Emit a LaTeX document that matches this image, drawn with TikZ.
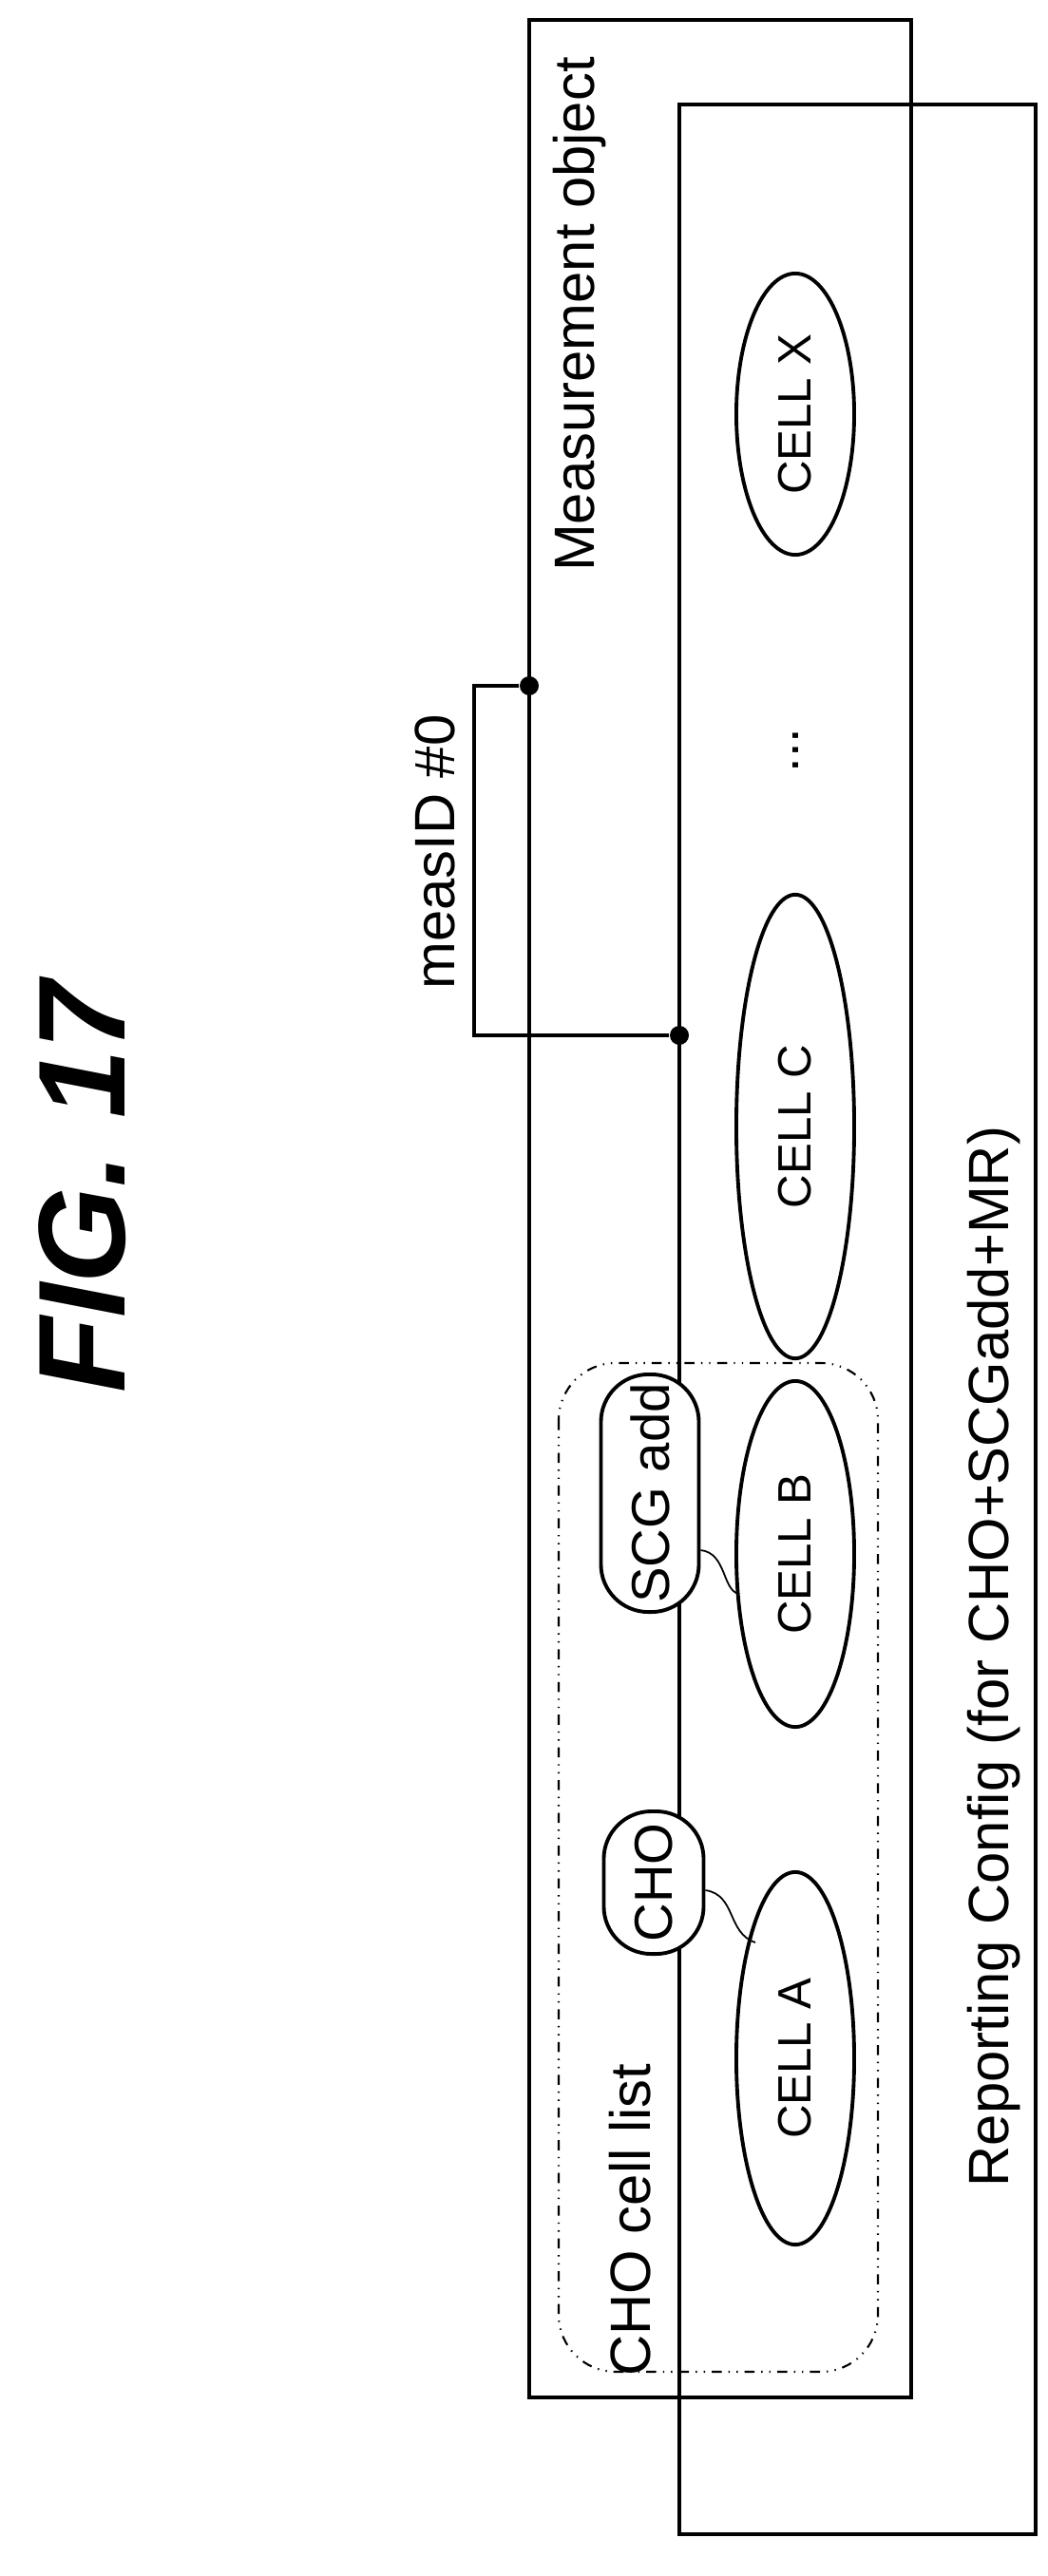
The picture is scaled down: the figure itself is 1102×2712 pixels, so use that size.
\documentclass[tikz,border=0pt]{standalone}
\usepackage{fontspec}
\setmainfont{Liberation Sans}
\usetikzlibrary{shapes.geometric}
\begin{document}
\begin{tikzpicture}[x=0.01cm,y=-0.01cm,
  box/.style={draw,line width=1.3pt},
  cell/.style={draw,ellipse,line width=1.1pt,fill=white,inner sep=0pt,font=\fontsize{14}{16}\selectfont},
  pill/.style={draw,line width=1.1pt,fill=white,rounded corners=0.5cm,inner sep=0pt,font=\fontsize{16}{18}\selectfont},
  lab/.style={rotate=90,font=\fontsize{17}{20}\selectfont},
  link/.style={line width=0.5pt},
  dot/.style={circle,fill=black,inner sep=0pt,minimum size=0.2cm}]
\useasboundingbox (0,0) rectangle (1102,2712);
\node[rotate=90,font=\fontsize{37}{40}\bfseries\itshape\selectfont] (title) at (87,1250) {FIG. 17};
% dashed CHO cell list
\draw[dash dot dot,line width=0.6pt,rounded corners=0.6cm] (588,1435) rectangle (924,2497);
\node[lab,anchor=center] (chol) at (663,2337) {CHO cell list};
% Measurement object box
\draw[box] (557,21) rectangle (959,2524);
\node[lab] (mo) at (610,331) {Measurement object};
% Reporting config box
\draw[box] (715,110) rectangle (1090,2668);
\node[lab] (rc) at (1046,1744) {Reporting Config (for CHO+SCGadd+MR)};
% cells
\node[cell,minimum width=1.24cm,minimum height=2.96cm] (cx) at (837,436) {\rotatebox{90}{CELL X}};
\node[font=\fontsize{16}{18}\selectfont] (dots) at (837,790) {\rotatebox{90}{...}};
\node[cell,minimum width=1.24cm,minimum height=4.88cm] (cc) at (837,1186) {\rotatebox{90}{CELL C}};
\node[cell,minimum width=1.24cm,minimum height=3.64cm] (cb) at (837,1636) {\rotatebox{90}{CELL B}};
\node[cell,minimum width=1.24cm,minimum height=3.92cm] (ca) at (837,2167) {\rotatebox{90}{CELL A}};
% pills
\node[pill,minimum width=1.03cm,minimum height=2.5cm] (scg) at (684,1572) {\rotatebox{90}{SCG add}};
\node[pill,minimum width=1.05cm,minimum height=1.5cm] (cho) at (688,1982) {\rotatebox{90}{CHO}};
% connectors pill-cell
\coordinate (sb) at (778,1678);
\coordinate (ca1) at (795,2045);
\draw[link] (scg.east |- 0,1632) .. controls (765,1635) and (760,1675) .. (sb);
\draw[link] (cho.east |- 0,1990) .. controls (775,1995) and (765,2035) .. (ca1);
% measID bracket
\node[dot] (d1) at (557,722) {};
\node[dot] (d2) at (715,1090) {};
\coordinate (b1) at (499,722);
\coordinate (b2) at (499,1090);
\draw[line width=1pt] (d1) -- (b1) -- (b2) -- (d2);
\node[lab] (mid) at (458,897) {measID \#0};
\end{tikzpicture}
\end{document}
